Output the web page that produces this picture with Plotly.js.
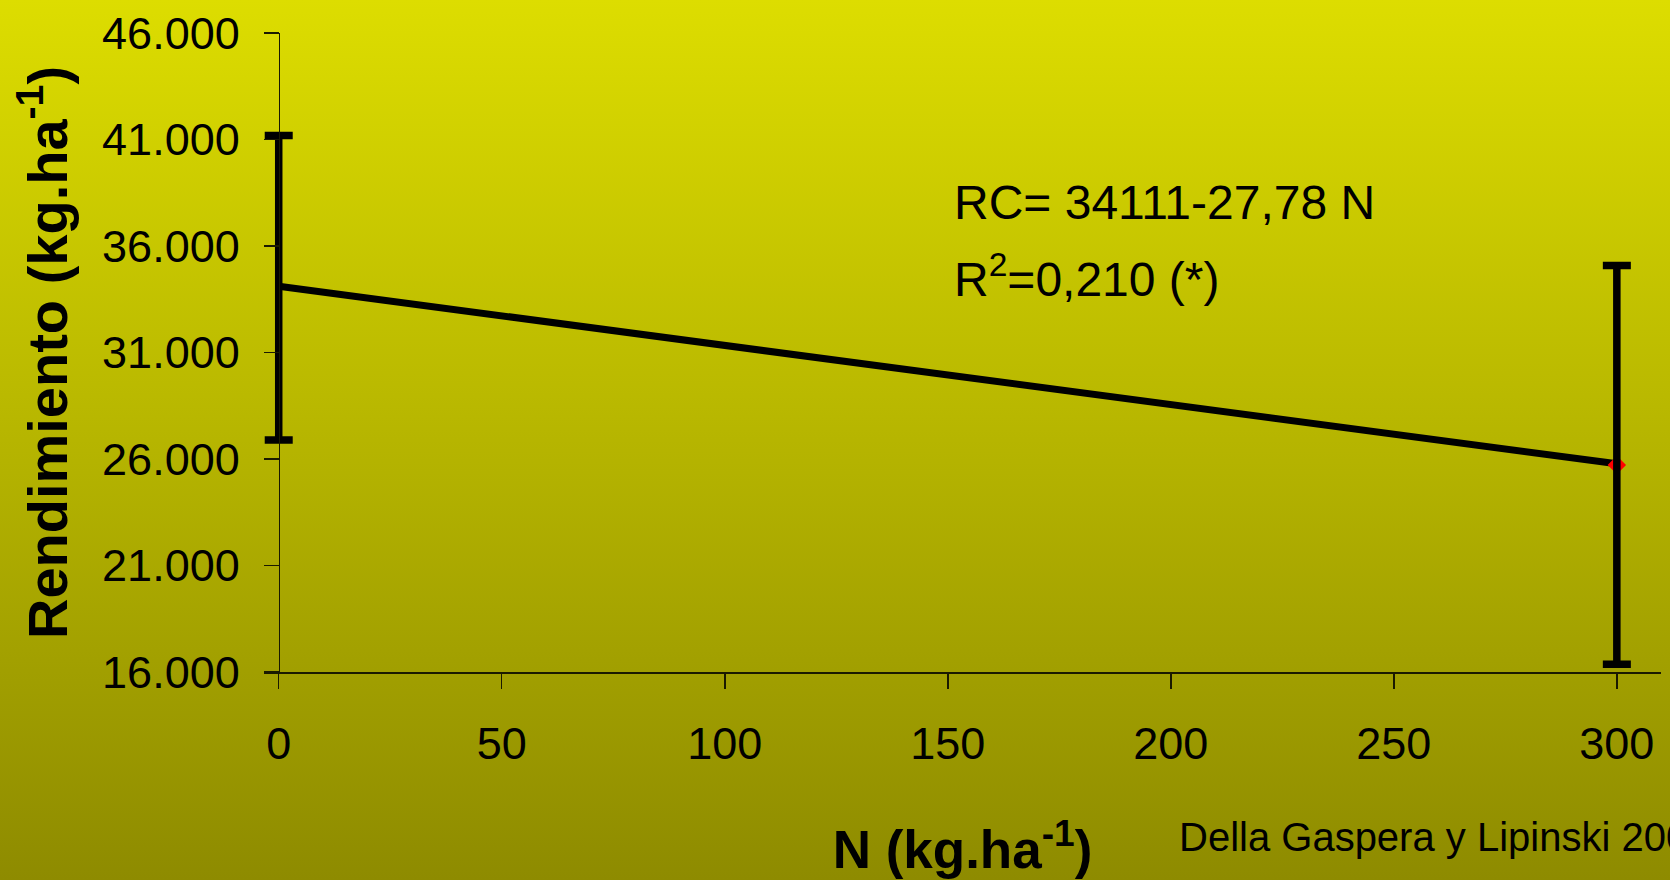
<!DOCTYPE html>
<html>
<head>
<meta charset="utf-8">
<script src="https://cdn.plot.ly/plotly-3.0.1.min.js"></script>
<style>
  html, body { margin: 0; padding: 0; }
  body {
    width: 1670px; height: 880px; overflow: hidden;
    background: linear-gradient(to bottom, #dddd00 0%, #b6b500 50%, #8e8b00 100%);
  }
  #chart { width: 1670px; height: 880px; }
</style>
</head>
<body>
<div id="chart"></div>
<script>
// Nitrogen dose (kg/ha) and measured yield (kg/ha) with its spread
const nDose = [0, 300];
const meanYield = [34040, 25720];
const yieldSpread = [7150, 9360];

// Fitted regression: RC = 34111 - 27,78 N
const rcIntercept = 34111;
const rcSlope = -27.78;
const fitYield = nDose.map(n => rcIntercept + rcSlope * n);

const xTicks = [0, 50, 100, 150, 200, 250, 300];
const yTicks = [16000, 21000, 26000, 31000, 36000, 41000, 46000];

const FONT = '"Liberation Sans", Arial, Helvetica, sans-serif';

// Plot area spans a little left of N = 0 so the x axis line runs past the
// y axis and the whole error-bar cap at N = 0 stays visible.
const xRange = [-3.3, 309.9];
const yAxisPos = (0 - xRange[0]) / (xRange[1] - xRange[0]);

const traces = [
  {
    // regression line
    x: nDose, y: fitYield,
    type: 'scatter', mode: 'lines',
    line: { color: '#000000', width: 7 },
    showlegend: false
  },
  {
    // red diamond at the highest dose
    x: [nDose[1]], y: [meanYield[1]],
    type: 'scatter', mode: 'markers',
    marker: { symbol: 'diamond', size: 12, color: '#ff0000',
              line: { color: '#ff0000', width: 2 } },
    showlegend: false, cliponaxis: false
  },
  {
    // spread of yield at each dose
    x: nDose, y: meanYield,
    type: 'scatter', mode: 'markers',
    marker: { size: 1, color: 'rgba(0,0,0,0)' },
    error_y: {
      type: 'data', array: yieldSpread, visible: true,
      color: '#000000', thickness: 7.5, width: 14
    },
    showlegend: false, cliponaxis: false
  }
];

const layout = {
  width: 1670, height: 880,
  paper_bgcolor: 'rgba(0,0,0,0)',
  plot_bgcolor: 'rgba(0,0,0,0)',
  margin: { l: 264, r: 9, t: 33, b: 208 },
  separators: ',.',
  font: { family: FONT, color: '#000000' },
  showlegend: false,
  xaxis: {
    range: xRange,
    tickvals: xTicks,
    ticktext: xTicks.map(String),
    showgrid: false, zeroline: false,
    showline: true, linecolor: '#1a1a00', linewidth: 1.5,
    ticks: 'outside', ticklen: 15, tickwidth: 1.5, tickcolor: '#1a1a00',
    tickfont: { family: FONT, size: 45, color: '#000000' },
    ticklabelstandoff: 16,
    title: {
      text: 'N (kg.ha<sup>-1</sup>)',
      font: { family: FONT, size: 53, weight: 'bold', color: '#000000' },
      standoff: 63
    }
  },
  yaxis: {
    range: [16000, 46000],
    anchor: 'free', position: yAxisPos,
    tickvals: yTicks,
    tickformat: ',d',
    showgrid: false, zeroline: false,
    showline: true, linecolor: '#1a1a00', linewidth: 1.5,
    ticks: 'outside', ticklen: 15, tickwidth: 1.5, tickcolor: '#1a1a00',
    tickfont: { family: FONT, size: 45, color: '#000000' },
    ticklabelstandoff: 15,
    title: {
      text: 'Rendimiento (kg.ha<sup>-1</sup>)',
      font: { family: FONT, size: 56, weight: 'bold', color: '#000000' },
      standoff: 15
    }
  },
  annotations: [
    {
      text: 'RC= 34111-27,78 N',
      xref: 'paper', yref: 'paper', x: 0.4926, y: 0.735,
      xanchor: 'left', yanchor: 'middle', showarrow: false,
      font: { family: FONT, size: 48, color: '#000000' }
    },
    {
      text: 'R<sup>2</sup>=0,210 (*)',
      xref: 'paper', yref: 'paper', x: 0.4926, y: 0.619,
      xanchor: 'left', yanchor: 'middle', showarrow: false,
      font: { family: FONT, size: 48, color: '#000000' }
    },
    {
      text: 'Della Gaspera y Lipinski 200',
      xref: 'paper', yref: 'paper', x: 0.6535, y: -0.258,
      xanchor: 'left', yanchor: 'middle', showarrow: false,
      font: { family: FONT, size: 40, color: '#000000' }
    }
  ]
};

Plotly.newPlot('chart', traces, layout, { staticPlot: true, displayModeBar: false });
</script>
</body>
</html>
